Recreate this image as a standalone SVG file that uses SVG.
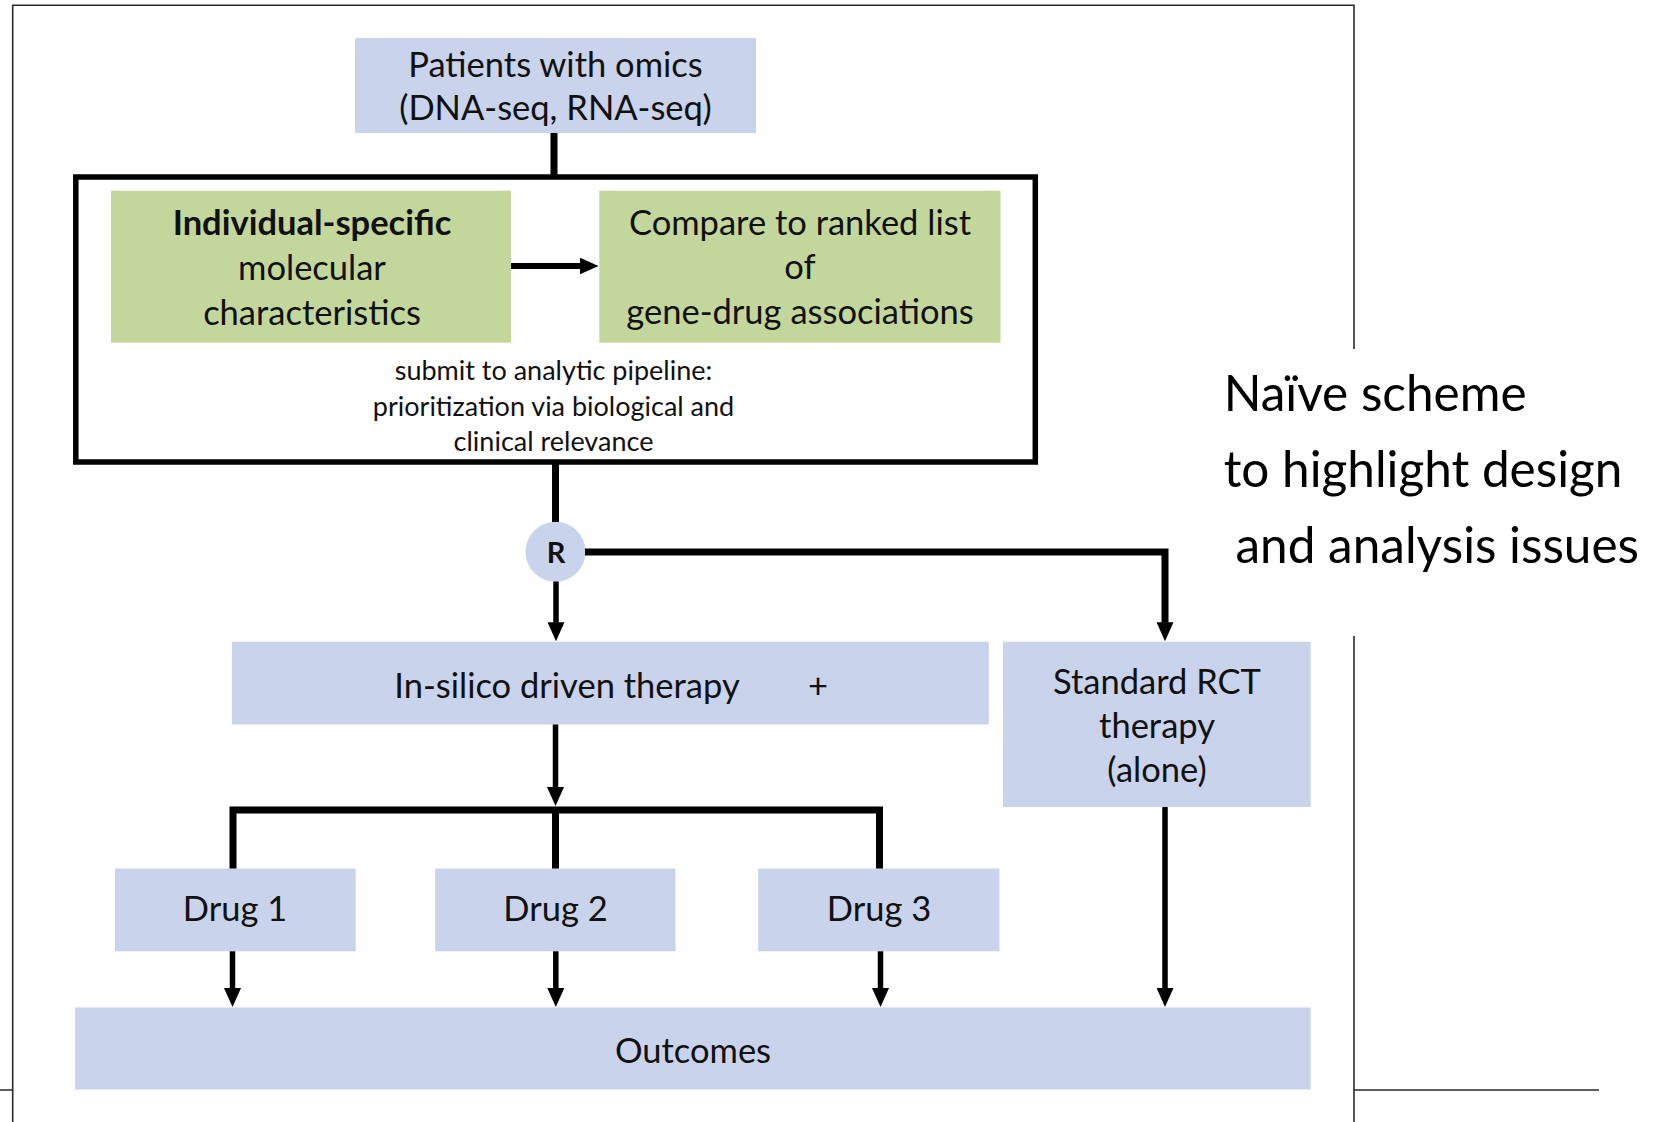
<svg xmlns="http://www.w3.org/2000/svg" width="1660" height="1122" viewBox="0 0 1660 1122">
  <defs>
    <!-- solid triangular head; lines stop at its base -->
    <marker id="arrow" viewBox="0 0 19 17" refX="0.5" refY="8.5" markerUnits="userSpaceOnUse" markerWidth="19" markerHeight="17" orient="auto">
      <path d="M0,0 L19,8.5 L0,17 Z" fill="#000"/>
    </marker>
    <style>
      .blue { fill: #c9d3eb; }
      .green { fill: #c3d69b; }
      .txt { font-family: "Lato", "Open Sans", "Liberation Sans", sans-serif; fill: #111; text-anchor: middle; }
      .big { font-size: 34.5px; }
      .small { font-size: 27px; }
      .side { font-family: "Lato", "Open Sans", "Liberation Sans", sans-serif; fill: #000; font-size: 49.5px; }
      .wire { fill: none; stroke: #000; stroke-linejoin: miter; stroke-linecap: butt; }
      .frame { fill: none; stroke: #2a2a2a; stroke-width: 1.6; }
    </style>
  </defs>

  <rect width="1660" height="1122" fill="#fff"/>

  <!-- page frame -->
  <g id="frame">
    <path class="frame" d="M12.7,1122 V5.3 H1354 V349"/>
    <path class="frame" d="M1354,636 V1122"/>
    <path class="frame" stroke-width="2.2" d="M0,1090 H12.7 M1354,1090 H1599"/>
  </g>

  <g id="patients">
    <rect class="blue" x="355" y="38" width="401" height="95"/>
    <text class="txt big" x="555.5" y="77">Patients with omics</text>
    <text class="txt big" x="555.5" y="120">(DNA-seq, RNA-seq)</text>
  </g>

  <g id="pipeline">
    <rect x="75.8" y="177" width="959.5" height="285" fill="none" stroke="#000" stroke-width="5.5"/>
    <text class="txt small" x="553.5" y="380">submit to analytic pipeline:</text>
    <text class="txt small" x="553.5" y="415.5">prioritization via biological and</text>
    <text class="txt small" x="553.5" y="451">clinical relevance</text>
  </g>

  <g id="individual">
    <rect class="green" x="111" y="190.7" width="400" height="152"/>
    <text class="txt big" x="312" y="235" font-weight="bold">Individual-specific</text>
    <text class="txt big" x="312" y="279.5">molecular</text>
    <text class="txt big" x="312" y="324.5">characteristics</text>
  </g>

  <g id="compare">
    <rect class="green" x="599.3" y="190.7" width="401.2" height="152"/>
    <text class="txt big" x="800" y="234.5">Compare to ranked list</text>
    <text class="txt big" x="800" y="279">of</text>
    <text class="txt big" x="800" y="324">gene-drug associations</text>
  </g>

  <g id="randomize">
    <circle class="blue" cx="555.5" cy="551.7" r="30"/>
    <text class="txt" x="556" y="562.5" font-size="29" font-weight="bold">R</text>
  </g>

  <g id="insilico">
    <rect class="blue" x="231.9" y="641.7" width="756.9" height="82.8"/>
    <text class="txt big" x="567" y="697.5">In-silico driven therapy</text>
    <text class="txt big" x="818" y="697.5">+</text>
  </g>

  <g id="standard">
    <rect class="blue" x="1003" y="641.7" width="307.7" height="165.3"/>
    <text class="txt big" x="1157" y="693.5">Standard RCT</text>
    <text class="txt big" x="1157" y="738">therapy</text>
    <text class="txt big" x="1157" y="782">(alone)</text>
  </g>

  <g id="drug1">
    <rect class="blue" x="114.9" y="868.5" width="240.8" height="82.8"/>
    <text class="txt big" x="235" y="921">Drug 1</text>
  </g>
  <g id="drug2">
    <rect class="blue" x="435.2" y="868.5" width="240.3" height="82.8"/>
    <text class="txt big" x="555.5" y="921">Drug 2</text>
  </g>
  <g id="drug3">
    <rect class="blue" x="758.2" y="868.5" width="241.2" height="82.8"/>
    <text class="txt big" x="879" y="921">Drug 3</text>
  </g>

  <g id="outcomes">
    <rect class="blue" x="75.2" y="1007.5" width="1235.5" height="82"/>
    <text class="txt big" x="693" y="1062.5">Outcomes</text>
  </g>

  <!-- connectors -->
  <g id="connectors">
    <path class="wire" stroke-width="7" d="M554,133 V177"/>
    <path class="wire" stroke-width="6" d="M511,266 H580" marker-end="url(#arrow)"/>
    <path class="wire" stroke-width="7" d="M555.5,462 V522"/>
    <path class="wire" stroke-width="5.5" d="M556,581.5 V622.7" marker-end="url(#arrow)"/>
    <path class="wire" stroke-width="7" d="M585,552 H1165 V622.7" marker-end="url(#arrow)"/>
    <path class="wire" stroke-width="5.5" d="M555.5,724.5 V787.5" marker-end="url(#arrow)"/>
    <path class="wire" stroke-width="7" d="M233,868.5 V810 H879.5 V868.5 M555.5,810 V868.5"/>
    <path class="wire" stroke-width="5.5" d="M232.5,951.3 V988.5" marker-end="url(#arrow)"/>
    <path class="wire" stroke-width="5.5" d="M555.8,951.3 V988.5" marker-end="url(#arrow)"/>
    <path class="wire" stroke-width="5.5" d="M880.5,951.3 V988.5" marker-end="url(#arrow)"/>
    <path class="wire" stroke-width="5.5" d="M1165,807 V988.5" marker-end="url(#arrow)"/>
  </g>

  <g id="caption">
    <text class="side" x="1223.7" y="410.7">Naïve scheme</text>
    <text class="side" x="1223.7" y="486.7">to highlight design</text>
    <text class="side" x="1235.5" y="562.5">and analysis issues</text>
  </g>
</svg>
